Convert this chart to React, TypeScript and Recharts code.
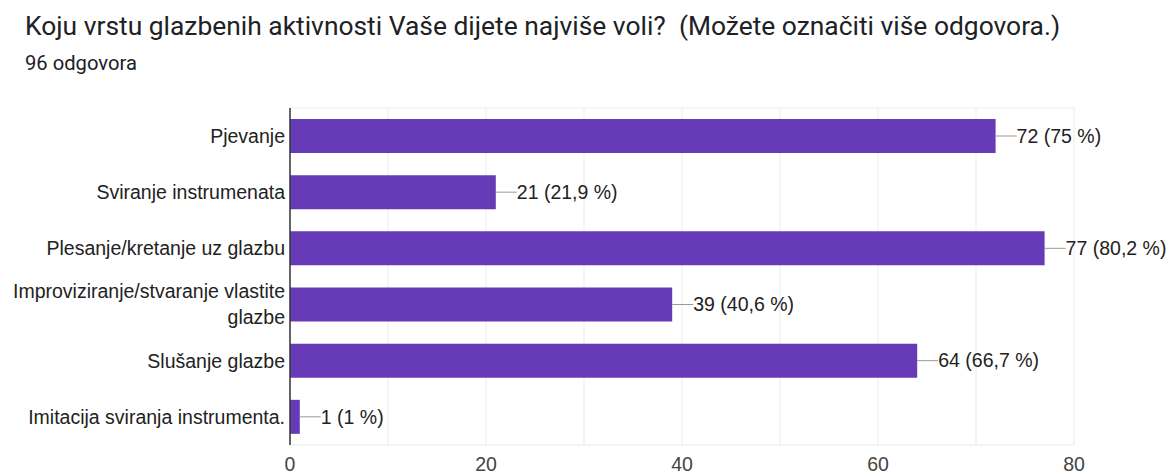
import { BarChart, Bar, XAxis, YAxis, CartesianGrid, LabelList } from 'recharts';

// Survey answers (96 responses)
const categories = [
  'Pjevanje',
  'Sviranje instrumenata',
  'Plesanje/kretanje uz glazbu',
  'Improviziranje/stvaranje vlastite glazbe',
  'Slušanje glazbe',
  'Imitacija sviranja instrumenta.',
];
const counts = [72, 21, 77, 39, 64, 1];
const percents = ['75 %', '21,9 %', '80,2 %', '40,6 %', '66,7 %', '1 %'];
const xTicks = [0, 10, 20, 30, 40, 50, 60, 70, 80];

const data = categories.map((name, i) => ({
  name,
  count: counts[i],
  label: `${counts[i]} (${percents[i]})`,
}));

const TITLE_FONT = 'Roboto, Arial, sans-serif';
const FONT = '"Liberation Sans", Arial, sans-serif';
const FS = 19.5;

// wrap long category names like google charts does
const wrapLabel = (text: string, maxChars = 34) => {
  const words = text.split(' ');
  const lines: string[] = [];
  let cur = '';
  words.forEach((w) => {
    const next = cur ? cur + ' ' + w : w;
    if (next.length > maxChars && cur) {
      lines.push(cur);
      cur = w;
    } else {
      cur = next;
    }
  });
  if (cur) lines.push(cur);
  return lines;
};

const CategoryTick = (props: any) => {
  const { x, y, payload } = props;
  const lines = wrapLabel(payload.value);
  const lineH = 26;
  const start = y - ((lines.length - 1) * lineH) / 2;
  return (
    <g>
      {lines.map((l, i) => (
        <text
          key={i}
          x={x}
          y={start + i * lineH}
          dy="0.35em"
          textAnchor="end"
          fill="#222"
          fontSize={FS}
          fontFamily={FONT}
        >
          {l}
        </text>
      ))}
    </g>
  );
};

const ValueLabel = (props: any) => {
  const { x, y, width, height, value } = props;
  const x0 = x + width;
  const cy = y + height / 2;
  return (
    <g>
      <line x1={x0} y1={cy} x2={x0 + 21} y2={cy} stroke="#999" strokeWidth={1} />
      <text x={x0 + 21} y={cy} dy="0.35em" fill="#222" fontSize={FS} fontFamily={FONT}>
        {value}
      </text>
    </g>
  );
};

export default function App() {
  return (
    <div
      style={{
        position: 'absolute',
        left: 0,
        top: 0,
        width: 1170,
        height: 474,
        overflow: 'hidden',
        background: '#fff',
      }}
    >
      <div
        style={{
          position: 'absolute',
          left: 25,
          top: 11,
          fontSize: 26.4,
          lineHeight: '30px',
          fontFamily: TITLE_FONT,
          color: '#202124',
          whiteSpace: 'nowrap',
        }}
      >
        Koju vrstu glazbenih aktivnosti Vaše dijete najviše voli?&nbsp; (Možete označiti više odgovora.)
      </div>
      <div
        style={{
          position: 'absolute',
          left: 25,
          top: 52,
          fontSize: 20.2,
          lineHeight: '22px',
          fontFamily: TITLE_FONT,
          color: '#202124',
        }}
      >
        96 odgovora
      </div>
      <div style={{ position: 'absolute', left: 0, top: 0 }}>
        <BarChart
          width={1170}
          height={500}
          data={data}
          layout="vertical"
          margin={{ top: 108, right: 96, left: 0, bottom: 25 }}
          barSize={34}
        >
          <CartesianGrid
            stroke="#ebebeb"
            horizontalCoordinatesGenerator={({ offset }: any) => [offset.top, offset.top + offset.height]}
          />
          <XAxis
            type="number"
            domain={[0, 80]}
            ticks={xTicks}
            interval={0}
            axisLine={false}
            tickLine={false}
            tickSize={0}
            tickMargin={12}
            height={30}
            tickFormatter={(v: number) => (v % 20 === 0 ? String(v) : '')}
            tick={{ fill: '#444', fontSize: FS, fontFamily: FONT }}
          />
          <YAxis
            type="category"
            dataKey="name"
            width={290}
            axisLine={{ stroke: '#333', strokeWidth: 1.5 }}
            tickLine={false}
            tickSize={0}
            tickMargin={5}
            tick={<CategoryTick />}
          />
          <Bar dataKey="count" fill="#673ab7" isAnimationActive={false}>
            <LabelList dataKey="label" content={<ValueLabel />} />
          </Bar>
        </BarChart>
      </div>
    </div>
  );
}
